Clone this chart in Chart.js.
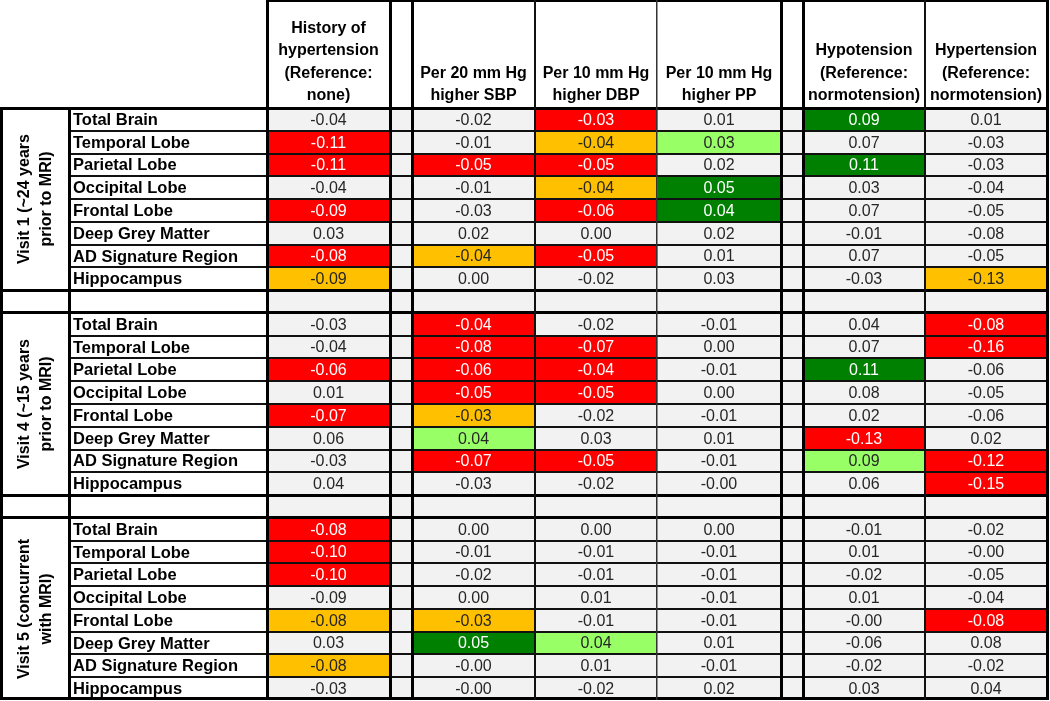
<!DOCTYPE html>
<html><head><meta charset="utf-8">
<script src="https://cdn.jsdelivr.net/npm/chart.js@4.4.1/dist/chart.umd.min.js"></script>
<style>html,body{margin:0;padding:0;background:#fff}#wrap{width:1050px;height:701px;position:relative}</style>
</head><body><div id="wrap"><canvas id="c"></canvas></div>
<script>
// ---------- DATA ----------
const visits = ['Visit 1 (~24 years\nprior to MRI)', 'Visit 4 (~15 years\nprior to MRI)', 'Visit 5 (concurrent\nwith MRI)'];
const regions = ['Total Brain','Temporal Lobe','Parietal Lobe','Occipital Lobe','Frontal Lobe','Deep Grey Matter','AD Signature Region','Hippocampus'];
const columnHeaders = [
  'History of\nhypertension\n(Reference:\nnone)',
  'Per 20 mm Hg\nhigher SBP',
  'Per 10 mm Hg\nhigher DBP',
  'Per 10 mm Hg\nhigher PP',
  'Hypotension\n(Reference:\nnormotension)',
  'Hypertension\n(Reference:\nnormotension)'
];
// values: Visit 1 (8 regions), Visit 4 (8), Visit 5 (8)
const historyHTN = [-0.04,-0.11,-0.11,-0.04,-0.09,0.03,-0.08,-0.09,  -0.03,-0.04,-0.06,0.01,-0.07,0.06,-0.03,0.04,  -0.08,-0.10,-0.10,-0.09,-0.08,0.03,-0.08,-0.03];
const sbp20      = [-0.02,-0.01,-0.05,-0.01,-0.03,0.02,-0.04,0.00,  -0.04,-0.08,-0.06,-0.05,-0.03,0.04,-0.07,-0.03,  0.00,-0.01,-0.02,0.00,-0.03,0.05,-0.00,-0.00];
const dbp10      = [-0.03,-0.04,-0.05,-0.04,-0.06,0.00,-0.05,-0.02,  -0.02,-0.07,-0.04,-0.05,-0.02,0.03,-0.05,-0.02,  0.00,-0.01,-0.01,0.01,-0.01,0.04,0.01,-0.02];
const pp10       = [0.01,0.03,0.02,0.05,0.04,0.02,0.01,0.03,  -0.01,0.00,-0.01,0.00,-0.01,0.01,-0.01,-0.00,  0.00,-0.01,-0.01,-0.01,-0.01,0.01,-0.01,0.02];
const hypotension  = [0.09,0.07,0.11,0.03,0.07,-0.01,0.07,-0.03,  0.04,0.07,0.11,0.08,0.02,-0.13,0.09,0.06,  -0.01,0.01,-0.02,0.01,-0.00,-0.06,-0.02,0.03];
const hypertension = [0.01,-0.03,-0.03,-0.04,-0.05,-0.08,-0.05,-0.13,  -0.08,-0.16,-0.06,-0.05,-0.06,0.02,-0.12,-0.15,  -0.02,-0.00,-0.05,-0.04,-0.08,0.08,-0.02,0.04];
// significance: 2 = p<0.05, 1 = p<0.10, 0 = not significant
const historySig = [0,2,2,0,2,0,2,1,  0,0,2,0,2,0,0,0,  2,2,2,0,1,0,1,0];
const sbpSig     = [0,0,2,0,0,0,1,0,  2,2,2,2,1,1,2,0,  0,0,0,0,1,2,0,0];
const dbpSig     = [2,1,2,1,2,0,2,0,  0,2,2,2,0,0,2,0,  0,0,0,0,0,1,0,0];
const ppSig      = [0,1,0,2,2,0,0,0,  0,0,0,0,0,0,0,0,  0,0,0,0,0,0,0,0];
const hypoSig    = [2,0,2,0,0,0,0,0,  0,0,2,0,0,2,1,0,  0,0,0,0,0,0,0,0];
const hyperSig   = [0,0,0,0,0,0,0,1,  2,2,0,0,0,0,2,2,  0,0,0,0,2,0,0,0];

// ---------- LAYOUT / STYLE ----------
const COLS = [
  {vals: historyHTN, sig: historySig, x0: 267, x1: 390},
  {vals: sbp20, sig: sbpSig, x0: 412, x1: 535},
  {vals: dbp10, sig: dbpSig, x0: 535, x1: 657},
  {vals: pp10, sig: ppSig, x0: 657, x1: 781},
  {vals: hypotension, sig: hypoSig, x0: 803, x1: 925},
  {vals: hypertension, sig: hyperSig, x0: 925, x1: 1047}
];
const SPACERS = [[390,412],[781,803]];
const GROUP_X = [0,69], LABEL_X = [69,267], RIGHT = 1047;
const GREY = '#F2F2F2';
const C = {negSig:'#FF0000', negMarg:'#FFC000', posSig:'#008000', posMarg:'#99FF66'};
function cellColor(v, s){
  if (!s) return GREY;
  const neg = v < 0 || Object.is(v,-0);
  if (s === 2) return neg ? C.negSig : C.posSig;
  return neg ? C.negMarg : C.posMarg;
}
function fmt(v){ return (Object.is(v,-0) ? '-' : '') + v.toFixed(2); }

// rows: 3 sections of 8 with blank rows in between
const ROWS = [];
visits.forEach((vname, s) => {
  regions.forEach((r, i) => ROWS.push({s, i, idx: s*regions.length + i}));
  if (s < visits.length - 1) ROWS.push(null);
});
const rowLabels = ROWS.map(r => r ? regions[r.i] : '');

const datasets = COLS.map(col => ({
  data: ROWS.map(() => [col.x0, col.x1]),
  backgroundColor: ctx => { const r = ROWS[ctx.dataIndex]; return r ? cellColor(col.vals[r.idx], col.sig[r.idx]) : GREY; },
  borderWidth: 0, grouped: false, barPercentage: 1, categoryPercentage: 1
})).concat(SPACERS.map(sp => ({
  data: ROWS.map(() => sp), backgroundColor: GREY, borderWidth: 0, grouped: false, barPercentage: 1, categoryPercentage: 1
})));

const tablePlugin = {
  id: 'table',
  beforeDraw(chart){
    const ctx = chart.ctx; ctx.save(); ctx.fillStyle = '#fff'; ctx.fillRect(0,0,chart.width,chart.height); ctx.restore();
  },
  afterDatasetsDraw(chart){
    const ctx = chart.ctx, xs = chart.scales.x, ys = chart.scales.y;
    const X = v => xs.getPixelForValue(v);
    const half = (ys.getPixelForValue(1) - ys.getPixelForValue(0)) / 2;
    const rTop = i => ys.getPixelForValue(i) - half;
    const rBot = i => ys.getPixelForValue(i) + half;
    const top = chart.chartArea.top, bottom = chart.chartArea.bottom;
    ctx.save();
    // values
    ctx.textAlign = 'center'; ctx.textBaseline = 'middle';
    ctx.font = '16px "Liberation Sans", Arial, sans-serif';
    ROWS.forEach((r, i) => {
      if (!r) return;
      const cy = ys.getPixelForValue(i) + 1;
      COLS.forEach(col => {
        const v = col.vals[r.idx], s = col.sig[r.idx];
        ctx.fillStyle = s === 2 ? '#FFFFFF' : '#262626';
        ctx.fillText(fmt(v), (X(col.x0) + X(col.x1)) / 2, cy);
      });
    });
    // row labels
    ctx.textAlign = 'left'; ctx.fillStyle = '#000';
    ctx.font = 'bold 16.5px "Liberation Sans", Arial, sans-serif';
    ROWS.forEach((r, i) => { if (r) ctx.fillText(rowLabels[i], X(LABEL_X[0]) + 4, ys.getPixelForValue(i) + 1); });
    // group labels (rotated)
    ctx.textAlign = 'center';
    ctx.font = 'bold 16px "Liberation Sans", Arial, sans-serif';
    const secRows = visits.map(() => []);
    ROWS.forEach((r, i) => { if (r) secRows[r.s].push(i); });
    visits.forEach((name, s) => {
      const rs = secRows[s];
      const cy = (rTop(rs[0]) + rBot(rs[rs.length-1])) / 2;
      const cx = (X(GROUP_X[0]) + X(GROUP_X[1])) / 2 + 1;
      const lines = name.split('\n');
      ctx.save(); ctx.translate(cx, cy); ctx.rotate(-Math.PI/2);
      lines.forEach((ln, k) => ctx.fillText(ln, 0, (k - (lines.length-1)/2) * 22));
      ctx.restore();
    });
    // headers
    ctx.font = 'bold 16px "Liberation Sans", Arial, sans-serif';
    COLS.forEach((col, j) => {
      const lines = columnHeaders[j].split('\n');
      const cx = (X(col.x0) + X(col.x1)) / 2;
      lines.forEach((ln, k) => ctx.fillText(ln, cx, top - 12 - (lines.length - 1 - k) * 22.5));
    });
    // borders
    ctx.fillStyle = '#000';
    const vline = (x, y0, y1, w, c) => { ctx.fillStyle = c || '#000'; ctx.fillRect(Math.round(x - w/2), y0, w, y1 - y0); };
    const hline = (y, x0, x1, w, c) => { ctx.fillStyle = c || '#000'; ctx.fillRect(x0, Math.round(y - w/2), x1 - x0, w); };
    const xr = X(RIGHT) + 2;
    // horizontal
    hline(1, X(COLS[0].x0), xr, 2);
    hline(top, 0, xr, 3);
    ROWS.forEach((r, i) => {
      if (i === ROWS.length - 1) return;
      const y = rBot(i);
      const nxt = ROWS[i+1];
      if (!r || !nxt) hline(y, 0, xr, 3);
      else hline(y, X(LABEL_X[1]) - 198, xr, 2, '#111');
    });
    hline(bottom - 1.5, 0, xr, 3);
    // vertical
    vline(1.5, top, bottom, 3);
    vline(X(GROUP_X[1]), top, bottom, 3);
    [COLS[0].x0, SPACERS[0][0], SPACERS[0][1], SPACERS[1][0], SPACERS[1][1], RIGHT].forEach(x => vline(X(x), 0, bottom, 3));
    vline(X(COLS[2].x0), 0, bottom, 2, '#111');
    vline(X(COLS[3].x0), 0, bottom, 1.5, '#333');
    vline(X(COLS[5].x0), 0, bottom, 2, '#111');
    ctx.restore();
  }
};

new Chart(document.getElementById('c'), {
  type: 'bar',
  data: { labels: rowLabels, datasets },
  options: {
    indexAxis: 'y', responsive: true, maintainAspectRatio: false, animation: false,
    layout: { padding: { top: 108, bottom: 1, left: 0, right: 0 } },
    plugins: { legend: { display: false }, tooltip: { enabled: false } },
    scales: {
      x: { type: 'linear', min: 0, max: 1050, display: false },
      y: { type: 'category', display: false, offset: true }
    }
  },
  plugins: [tablePlugin]
});
</script>
</body></html>
